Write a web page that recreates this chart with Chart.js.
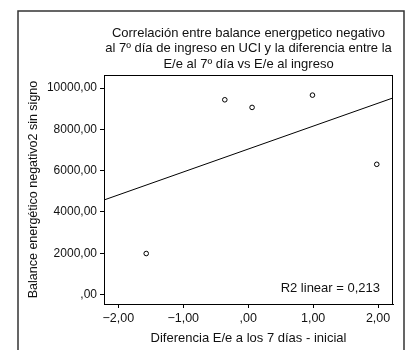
<!DOCTYPE html>
<html>
<head>
<meta charset="utf-8">
<script src="https://cdn.jsdelivr.net/npm/chart.js@4"></script>
<style>
  html, body { margin: 0; padding: 0; background: #fff; }
  #wrap { width: 408px; height: 350px; }
</style>
</head>
<body>
<div id="wrap"><canvas id="c" width="408" height="350"></canvas></div>
<script>
// Diferencia E/e (7 días - inicial) vs balance energético negativo
const difEe = [-1.57, -0.36, 0.06, 0.99, 1.98];
const balance = [1985, 9430, 9060, 9655, 6305];
const xTicks = [-2, -1, 0, 1, 2];
const yTicks = [0, 2000, 4000, 6000, 8000, 10000];
const titleLines = [
  'Correlación entre balance energpetico negativo',
  'al 7º día de ingreso en UCI y la diferencia entre la',
  'E/e al 7º día vs E/e al ingreso'
];
const r2Label = 'R2 linear = 0,213';

const X_MIN = -2.22, X_MAX = 2.23;
const Y_MIN = -460, Y_MAX = 10630;
const FONT = '"Liberation Sans", Arial, Helvetica, sans-serif';

// least squares fit for the reference line
function fitLine(xs, ys) {
  const n = xs.length;
  const mx = xs.reduce((a, b) => a + b, 0) / n;
  const my = ys.reduce((a, b) => a + b, 0) / n;
  let sxy = 0, sxx = 0;
  for (let i = 0; i < n; i++) {
    sxy += (xs[i] - mx) * (ys[i] - my);
    sxx += (xs[i] - mx) ** 2;
  }
  const slope = sxy / sxx;
  return { slope, intercept: my - slope * mx };
}
const fit = fitLine(difEe, balance);
const fitPoints = [X_MIN, X_MAX].map(x => ({ x, y: fit.intercept + fit.slope * x }));

function spssNum(v) {
  const s = Math.abs(v).toFixed(2).replace('.', ',').replace(/^0,/, ',');
  return (v < 0 ? '\u2212' : '') + s;
}

const decor = {
  id: 'decor',
  afterDraw(chart) {
    const { ctx, chartArea: a } = chart;
    ctx.save();
    // outer frame
    ctx.strokeStyle = '#333';
    ctx.lineWidth = 1.5;
    ctx.beginPath();
    ctx.moveTo(18, 350);
    ctx.lineTo(18, 11);
    ctx.lineTo(404, 11);
    ctx.lineTo(404, 350);
    ctx.stroke();
    // plot box
    ctx.strokeStyle = '#000';
    ctx.lineWidth = 1;
    ctx.strokeRect(a.left + 0.5, a.top + 0.5, a.right - a.left - 1, a.bottom - a.top);
    // title
    ctx.fillStyle = '#111';
    ctx.font = '13px ' + FONT;
    ctx.textAlign = 'center';
    ctx.textBaseline = 'middle';
    const cx = (a.left + a.right) / 2;
    titleLines.forEach((t, i) => ctx.fillText(t, cx, 33 + i * 15.6));
    // fit label
    ctx.textAlign = 'right';
    ctx.fillText(r2Label, a.right - 13, a.bottom - 16);
    ctx.restore();
  }
};

new Chart(document.getElementById('c'), {
  type: 'scatter',
  data: {
    datasets: [
      {
        label: 'Balance',
        data: difEe.map((x, i) => ({ x, y: balance[i] })),
        pointRadius: 2.3,
        pointBorderWidth: 1,
        pointBorderColor: '#000',
        pointBackgroundColor: '#fff',
        showLine: false
      },
      {
        label: 'Lineal',
        type: 'line',
        data: fitPoints,
        borderColor: '#000',
        borderWidth: 1,
        pointRadius: 0,
        fill: false
      }
    ]
  },
  options: {
    responsive: false,
    animation: false,
    events: [],
    layout: { padding: { top: 75, right: 15, left: 0, bottom: 0 } },
    plugins: {
      legend: { display: false },
      tooltip: { enabled: false },
      title: { display: false }
    },
    scales: {
      x: {
        type: 'linear',
        min: X_MIN,
        max: X_MAX,
        afterBuildTicks: s => { s.ticks = xTicks.map(v => ({ value: v })); },
        afterFit: s => { s.height = 46; s.paddingLeft = 0; s.paddingRight = 0; },
        grid: { drawOnChartArea: false, drawTicks: true, tickLength: 4, color: '#000' },
        border: { display: true, color: '#000', width: 1 },
        ticks: {
          color: '#111',
          padding: 3,
          maxRotation: 0,
          font: { family: FONT, size: 12.5 },
          callback: v => spssNum(v)
        },
        title: {
          display: true,
          text: 'Diferencia E/e a los 7 días - inicial',
          color: '#111',
          font: { family: FONT, size: 13 },
          padding: { top: 0, bottom: 4 }
        }
      },
      y: {
        type: 'linear',
        min: Y_MIN,
        max: Y_MAX,
        afterBuildTicks: s => { s.ticks = yTicks.map(v => ({ value: v })); },
        afterFit: s => { s.width = 104; s.paddingTop = 0; s.paddingBottom = 0; },
        grid: { drawOnChartArea: false, drawTicks: true, tickLength: 4, color: '#000' },
        border: { display: true, color: '#000', width: 1 },
        ticks: {
          color: '#111',
          padding: 3,
          font: { family: FONT, size: 12 },
          callback: v => spssNum(v)
        },
        title: {
          display: true,
          text: 'Balance energético negativo2 sin signo',
          color: '#111',
          font: { family: FONT, size: 12.5 },
          padding: { top: 26, bottom: 0 }
        }
      }
    }
  },
  plugins: [decor]
});
</script>
</body>
</html>
